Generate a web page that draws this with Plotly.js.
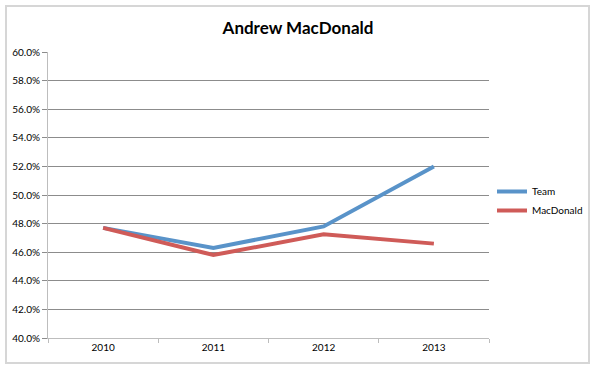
<!DOCTYPE html>
<html>
<head>
<meta charset="utf-8">
<script src="https://cdn.plot.ly/plotly-3.0.1.min.js"></script>
<style>
  html, body { margin: 0; padding: 0; background: #ffffff; }
  #frame { position: absolute; left: 5px; top: 5px; width: 581px; height: 355px; border: 2px solid #d6d6d6; }
  #chart { position: absolute; left: 0; top: 0; width: 596px; height: 369px; }
</style>
</head>
<body>
<div id="frame"></div>
<div id="chart"></div>
<script>
const years = ['2010', '2011', '2012', '2013'];
const teamValues = [0.477, 0.463, 0.478, 0.520];
const macdonaldValues = [0.477, 0.458, 0.4725, 0.466];
const seriesNames = ['Team', 'MacDonald'];

const font = "Lato, 'Open Sans', 'Liberation Sans', sans-serif";

const traces = [
  { x: years, y: teamValues, name: seriesNames[0], type: 'scatter', mode: 'lines',
    line: { color: '#5993c9', width: 4 } },
  { x: years, y: macdonaldValues, name: seriesNames[1], type: 'scatter', mode: 'lines',
    line: { color: '#cf5b58', width: 4 } }
];

const layout = {
  width: 596, height: 369,
  margin: { l: 48, r: 107, t: 52, b: 31, pad: 0, autoexpand: false },
  paper_bgcolor: 'rgba(0,0,0,0)',
  plot_bgcolor: 'rgba(0,0,0,0)',
  font: { family: font, size: 10, color: '#000000' },
  title: { text: '<b>Andrew MacDonald</b>', font: { family: font, size: 17, color: '#000' },
           x: 0.5, xanchor: 'center', y: 1 - 28/369, yanchor: 'middle' },
  showlegend: true,
  legend: { xref: 'container', yref: 'container', x: 492/596, xanchor: 'left',
            y: 1 - 201/369, yanchor: 'middle',
            font: { family: font, size: 10, color: '#000' }, tracegroupgap: 0,
            bgcolor: 'rgba(0,0,0,0)' },
  xaxis: {
    type: 'category', range: [-0.5, 3.5],
    showline: true, linecolor: '#bdbdbd', linewidth: 1,
    ticks: 'outside', tickson: 'boundaries', ticklen: 4, tickcolor: '#bdbdbd',
    showgrid: false, zeroline: false, fixedrange: true,
    tickfont: { family: font, size: 10, color: '#000' }
  },
  yaxis: {
    range: [0.40, 0.60], dtick: 0.02, tick0: 0.40, tickformat: '.1%',
    showline: true, linecolor: '#bdbdbd', linewidth: 1,
    ticks: 'outside', ticklen: 5, tickcolor: '#8c8c8c',
    showgrid: true, gridcolor: '#8c8c8c', gridwidth: 1,
    zeroline: false, fixedrange: true,
    tickfont: { family: font, size: 10, color: '#000' }
  }
};

Plotly.newPlot('chart', traces, layout, { displayModeBar: false, staticPlot: true });
</script>
</body>
</html>
